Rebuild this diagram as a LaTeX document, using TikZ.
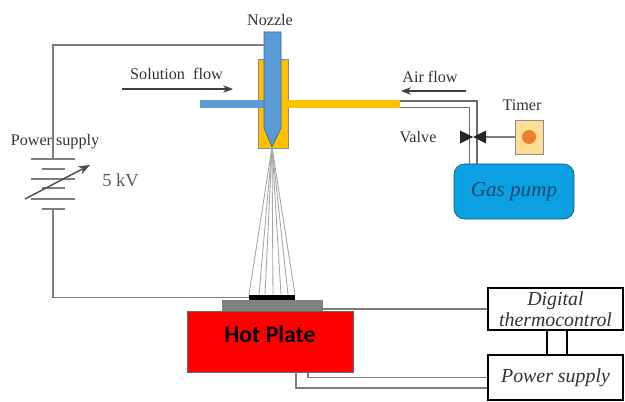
\documentclass[tikz,border=0pt]{standalone}
\usepackage{fontspec}
\setmainfont{Liberation Serif}
\newfontfamily\platefont{Carlito}
\usetikzlibrary{arrows.meta, positioning}
\definecolor{nozzleblue}{RGB}{91, 155, 213}
\definecolor{bodyyellow}{RGB}{255, 192, 0}
\definecolor{pumpblue}{RGB}{10, 160, 226}
\definecolor{pumpedge}{RGB}{20, 90, 140}
\definecolor{timerfill}{RGB}{253, 222, 150}
\definecolor{timerdot}{RGB}{237, 125, 49}
\definecolor{wiregray}{RGB}{125, 125, 125}
\definecolor{labelgray}{RGB}{50, 50, 50}
\tikzset{
  wire/.style     = {wiregray, line width=1.1pt},
  airline/.style  = {wiregray!85!black, line width=1pt},
  plate/.style    = {wiregray, line width=1pt},
  flow/.style     = {-Stealth, black!75, line width=0.6pt},
  spray/.style    = {black!35, line width=0.5pt},
  lbl/.style      = {labelgray, font=\fontsize{9.2}{11}\selectfont, inner sep=0pt},
  ctrl/.style     = {rectangle, draw=black, line width=1.3pt, fill=white, minimum width=2.7cm, align=center, font=\fontsize{11.3}{13}\selectfont\itshape, text=labelgray, inner sep=0pt},
  link/.style     = {black, line width=1.3pt},
}
\begin{document}
\begin{tikzpicture}
  \useasboundingbox (0,0) rectangle (12.5,8.02);

  % nozzle head
  \fill[bodyyellow, draw=black!45, thin] (5.16,6.84) rectangle (5.76,5.06);
  \fill[bodyyellow] (5.76,6.02) rectangle (8.00,5.86);
  \fill[nozzleblue] (4.00,6.02) rectangle (5.28,5.86);
  \draw[nozzleblue!70!black, fill=nozzleblue, thin] (5.28,7.38) -- (5.62,7.38) -- (5.62,5.46) -- (5.44,5.08) -- (5.28,5.46) -- cycle;
  \coordinate (nozzlewire) at (5.28,7.12);
  \coordinate (tip) at (5.44,5.08);
  \node[lbl] (nozzlelbl) at (5.40,7.62) {Nozzle};

  % hot plate stack
  \node[draw=black!60, fill=red, minimum width=3.32cm, minimum height=1.22cm, inner sep=0pt] (hotplate) at (5.40,1.19) {};
  \node[font=\platefont\bfseries\fontsize{13.5}{16}\selectfont, text=black, inner sep=0pt] (hotlbl) at (5.40,1.34) {Hot Plate};
  \node[fill=black!50, minimum width=2.02cm, minimum height=0.22cm, inner sep=0pt] (substrate) at (5.45,1.91) {};
  \node[fill=black, minimum width=0.92cm, minimum height=0.10cm, inner sep=0pt] (sample) at (5.44,2.07) {};

  % spray
  \foreach \x in {-0.46,-0.26,-0.14,0.02,0.18,0.32,0.46}
    \draw[spray] (tip) -- ([xshift=\x cm]sample.north);

  % voltage source
  \coordinate (battop) at (1.06,4.84);
  \coordinate (batlow) at (1.06,3.84);
  \foreach \y/\w in {4.84/0.44, 4.64/0.23, 4.44/0.44, 4.26/0.23, 4.04/0.44, 3.84/0.23}
    \draw[plate] (1.06-\w,\y) -- (1.06+\w,\y);
  \coordinate (knobstart) at (0.50,4.04);
  \coordinate (knobend) at (1.80,4.72);
  \draw[-Stealth, black!70, line width=0.8pt] (knobstart) -- (knobend);
  \draw[wire] (nozzlewire) -| (battop);
  \draw[wire] (batlow) |- (sample.west);
  \node[lbl] (supplylbl) at (1.10,5.18) {Power supply};
  \node[lbl, font=\fontsize{10.5}{13}\selectfont, text=black!65] (kvlbl) at (2.41,4.42) {5 kV};

  % flow labels
  \coordinate (solstart) at (2.44,6.24);
  \coordinate (solend) at (4.66,6.24);
  \draw[flow] (solstart) -- (solend);
  \node[lbl] (sollbl) at (3.53,6.54) {Solution\ \ flow};
  \coordinate (airstart) at (9.32,6.20);
  \coordinate (airend) at (8.02,6.20);
  \draw[flow] (airstart) -- (airend);
  \node[lbl] (airlbl) at (8.60,6.48) {Air flow};

  % gas side
  \node[rectangle, rounded corners=6pt, draw=pumpedge, fill=pumpblue, minimum width=2.4cm, minimum height=1.1cm, inner sep=0pt, font=\fontsize{12}{14}\selectfont\itshape, text=pumpedge!80!black] (pump) at (10.28,4.19) {Gas pump};
  \coordinate (airtop) at (8.00,6.00);
  \coordinate (airlow) at (8.00,5.87);
  \draw[airline] (airtop) -| ([xshift=-0.74cm]pump.north);
  \draw[airline] (airlow) -| ([xshift=-0.89cm]pump.north);
  \node[rectangle, draw=black!45, fill=timerfill, minimum width=0.56cm, minimum height=0.68cm, inner sep=0pt] (timer) at (10.58,5.28) {};
  \node[circle, fill=timerdot, minimum size=0.28cm, inner sep=0pt] (timerdotn) at (timer) {};
  \node[lbl] (timerlbl) at (10.44,5.92) {Timer};
  \coordinate (valve) at (9.46,5.28);
  \draw[wire] (timer.west) -- ([xshift=0.26cm]valve);
  \fill[black!85] (valve) -- ++(-0.26,0.13) -- ++(0,-0.26) -- cycle;
  \fill[black!85] (valve) -- ++(0.26,0.13) -- ++(0,-0.26) -- cycle;
  \node[lbl] (valvelbl) at (8.36,5.28) {Valve};

  % controllers
  \node[ctrl, minimum height=0.84cm] (digital) at (11.11,1.84) {Digital\\[-1pt]thermocontrol};
  \node[ctrl, minimum height=0.90cm] (heater) at (11.11,0.47) {Power supply};
  \draw[link] ([xshift=-0.17cm]digital.south) -- ([xshift=-0.17cm]heater.north);
  \draw[link] ([xshift=0.23cm]digital.south) -- ([xshift=0.23cm]heater.north);
  \draw[wire] (substrate.east |- digital.west) -- (digital.west);
  \draw[wire] ([xshift=0.76cm]hotplate.south) |- (heater.west);
  \draw[wire] ([xshift=0.52cm]hotplate.south) |- ([yshift=-0.21cm]heater.west);
\end{tikzpicture}
\end{document}
